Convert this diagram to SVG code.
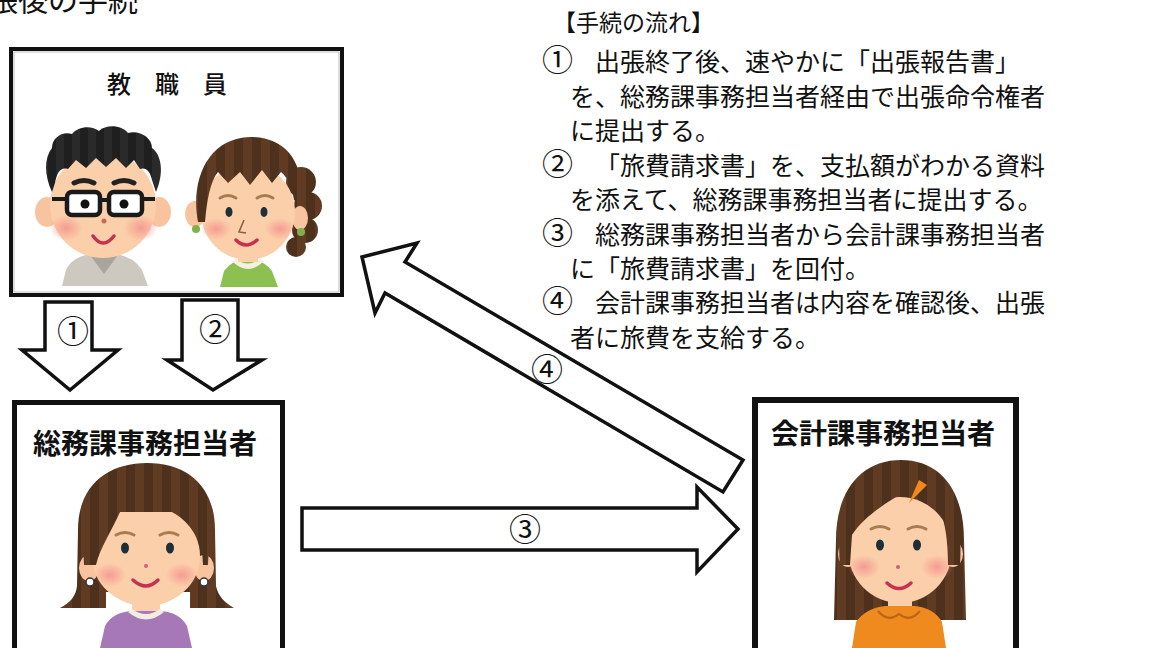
<svg xmlns="http://www.w3.org/2000/svg" width="1152" height="648" viewBox="0 0 1152 648">
  <defs>
    <style>
      .jp { font-family: "Noto Sans CJK JP", "Noto Sans", sans-serif; fill: #111; text-spacing-trim: space-all; }
      .body { font-size: 25px; }
      .head { font-size: 23px; }
      .cd { font-size: 31px; }
      .ttl { font-size: 28px; font-weight: 700; }
      .num { font-size: 32px; }
      .box { fill: #fff; stroke: #111; }
      .arrow { fill: #fff; stroke: #111; stroke-width: 3.5; stroke-linejoin: miter; }
      .skin { fill: #fbcfa9; }
      .ear { fill: #f8c4a0; }
      .eye { fill: #1e2f3a; }
      .brow { fill: none; stroke: #a57d52; stroke-width: 3; stroke-linecap: round; }
      .mouth { fill: none; stroke: #c8304f; stroke-width: 3.5; stroke-linecap: round; }
      .hair { fill: url(#stripeBrown); }
    </style>
    <pattern id="stripeBrown" patternUnits="userSpaceOnUse" width="18" height="10">
      <rect width="18" height="10" fill="#5e3b22"/>
      <rect width="9" height="10" fill="#4e311c"/>
    </pattern>
    <pattern id="stripeBlack" patternUnits="userSpaceOnUse" width="16" height="10">
      <rect width="16" height="10" fill="#2a2a2a"/>
      <rect width="8" height="10" fill="#1f1f1f"/>
    </pattern>
    <radialGradient id="blush">
      <stop offset="0" stop-color="#f4938f" stop-opacity="0.85"/>
      <stop offset="1" stop-color="#f4938f" stop-opacity="0"/>
    </radialGradient>
  </defs>

  <rect width="1152" height="648" fill="#fff"/>

  <!-- heading, cut by the top edge -->
  <text class="jp" x="-12" y="11" font-size="30">張後の手続</text>

  <!-- procedure notes -->
  <g id="notes" class="jp">
    <text class="head" x="553" y="31">【手続の流れ】</text>
    <text class="body" y="71"><tspan class="cd" x="542">①</tspan><tspan x="570">　出張終了後、速やかに「出張報告書」</tspan></text>
    <text class="body" x="570" y="105.5">を、総務課事務担当者経由で出張命令権者</text>
    <text class="body" x="570" y="140">に提出する。</text>
    <text class="body" y="174.5"><tspan class="cd" x="542">②</tspan><tspan x="570">　</tspan><tspan x="595">「旅費請求書」を、支払額がわかる資料</tspan></text>
    <text class="body" x="570" y="209">を添えて、総務課事務担当者に提出する。</text>
    <text class="body" y="243.5"><tspan class="cd" x="542">③</tspan><tspan x="570">　総務課事務担当者から会計課事務担当者</tspan></text>
    <text class="body" x="570" y="278">に「旅費請求書」を回付。</text>
    <text class="body" y="312"><tspan class="cd" x="542">④</tspan><tspan x="570">　会計課事務担当者は内容を確認後、出張</tspan></text>
    <text class="body" x="570" y="346.5">者に旅費を支給する。</text>
  </g>

  <!-- staff box -->
  <g id="staff">
    <rect class="box" x="11" y="49" width="331" height="246" stroke-width="4"/>
    <rect x="14" y="52" width="325" height="240" fill="none" stroke="#bbb" stroke-width="1"/>
    <text class="jp" x="107" y="93" font-size="24" font-weight="500">教　職　員</text>

    <!-- man with glasses -->
    <g id="staff-man">
      <path d="M62,286 L66,270 Q72,257 90,254 L116,254 Q134,257 142,270 L148,286 Z" fill="#cdc8c0"/>
      <path d="M90,255 L104,274 L118,255 Z" fill="#a9a49c"/>
      <rect class="skin" x="92" y="244" width="22" height="13"/>
      <ellipse class="ear" cx="47" cy="212" rx="12" ry="15"/>
      <ellipse class="ear" cx="159" cy="212" rx="12" ry="15"/>
      <ellipse class="skin" cx="103" cy="205" rx="53" ry="53"/>
      <ellipse cx="66" cy="228" rx="17" ry="13" fill="url(#blush)"/>
      <ellipse cx="141" cy="228" rx="17" ry="13" fill="url(#blush)"/>
      <path d="M52,192 C44,175 44,158 52,148 C52,138 62,131 72,134 C78,126 92,125 99,131 C106,124 122,125 128,133 C140,130 152,138 152,148 C162,155 164,174 156,192 L152,180 C150,171 146,167 140,169 L134,160 L126,168 L116,158 L106,167 L96,158 L86,168 L76,160 L68,169 C60,167 57,173 55,183 Z" fill="url(#stripeBlack)"/>
      <path d="M74,183 Q84,178 94,183" fill="none" stroke="#222" stroke-width="5" stroke-linecap="round"/>
      <path d="M114,183 Q124,178 134,183" fill="none" stroke="#222" stroke-width="5" stroke-linecap="round"/>
      <line x1="52" y1="199" x2="67" y2="199" stroke="#1a1a1a" stroke-width="4"/>
      <line x1="142" y1="199" x2="155" y2="199" stroke="#1a1a1a" stroke-width="4"/>
      <rect x="67" y="192" width="33" height="23" rx="5" fill="#fff" stroke="#1a1a1a" stroke-width="4.5"/>
      <rect x="109" y="192" width="33" height="23" rx="5" fill="#fff" stroke="#1a1a1a" stroke-width="4.5"/>
      <line x1="100" y1="200" x2="109" y2="200" stroke="#1a1a1a" stroke-width="4"/>
      <circle cx="85" cy="204" r="4.5" fill="#111"/>
      <circle cx="124" cy="204" r="4.5" fill="#111"/>
      <circle cx="104" cy="221" r="2.5" fill="#c96a55"/>
      <path class="mouth" d="M93,236 Q103,250 114,236"/>
    </g>

    <!-- woman with hair bun -->
    <g id="staff-woman">
      <circle class="hair" cx="301" cy="182" r="15"/>
      <circle class="hair" cx="308" cy="206" r="14"/>
      <circle class="hair" cx="305" cy="230" r="13"/>
      <circle class="hair" cx="296" cy="247" r="10"/>
      <path d="M220,287 L224,271 Q232,260 248,259 Q264,260 272,271 L278,287 Z" fill="#8cc152"/>
      <path d="M232,261 Q248,277 264,261 L260,259 Q248,268 236,259 Z" fill="#f5f0e0"/>
      <rect class="skin" x="238" y="247" width="20" height="15"/>
      <ellipse class="ear" cx="195" cy="214" rx="10" ry="13"/>
      <ellipse class="ear" cx="300" cy="218" rx="8" ry="12"/>
      <ellipse class="skin" cx="248" cy="212" rx="47" ry="48"/>
      <ellipse cx="216" cy="229" rx="15" ry="11" fill="url(#blush)"/>
      <ellipse cx="280" cy="229" rx="15" ry="11" fill="url(#blush)"/>
      <path d="M198,222 C190,180 208,138 250,137 C288,137 306,165 300,205 L294,200 C292,186 287,177 281,172 L272,183 L262,170 L250,185 L240,172 L228,183 L218,172 C210,182 207,200 205,222 Z" class="hair"/>
      <circle cx="196" cy="229" r="4" fill="#7fb04a"/>
      <circle cx="301" cy="232" r="4" fill="#7fb04a"/>
      <path class="brow" d="M220,198 Q228,193 236,198"/>
      <path class="brow" d="M257,198 Q265,193 273,198"/>
      <ellipse class="eye" cx="229" cy="212" rx="3.5" ry="5"/>
      <ellipse class="eye" cx="264" cy="212" rx="3.5" ry="5"/>
      <path d="M244,220 L239,232 L246,233" fill="none" stroke="#8a5a40" stroke-width="1.5"/>
      <path class="mouth" d="M236,240 Q246,250 257,240"/>
    </g>
  </g>

  <!-- general affairs clerk box -->
  <g id="general-affairs">
    <rect class="box" x="14.5" y="402.5" width="268" height="260" stroke-width="5"/>
    <text class="jp ttl" x="145" y="454" text-anchor="middle">総務課事務担当者</text>
    <path class="hair" d="M78,530 C78,485 108,463 147,463 C188,463 215,487 215,530 L216,586 C218,596 225,603 234,608 L190,608 L190,592 L106,592 L106,608 L60,608 C70,603 76,596 77,586 Z"/>
    <rect class="skin" x="132" y="596" width="28" height="20"/>
    <path d="M100,648 L105,626 Q112,613 130,611 L162,611 Q180,613 187,626 L192,648 Z" fill="#a678b8"/>
    <path d="M128,612 Q146,627 164,612 L160,609 Q146,619 132,609 Z" fill="#f3ede0"/>
    <ellipse class="ear" cx="89" cy="568" rx="10" ry="13"/>
    <ellipse class="ear" cx="204" cy="568" rx="10" ry="13"/>
    <ellipse class="skin" cx="146" cy="556" rx="54" ry="50"/>
    <ellipse cx="110" cy="575" rx="16" ry="12" fill="url(#blush)"/>
    <ellipse cx="182" cy="575" rx="16" ry="12" fill="url(#blush)"/>
    <path class="hair" d="M84,565 C80,505 108,470 147,470 C188,470 212,505 208,565 L203,565 C202,540 198,522 190,512 L120,512 C112,530 100,548 96,565 Z"/>
    <circle cx="90" cy="582" r="4" fill="#fff" stroke="#333" stroke-width="1.5"/>
    <circle cx="204" cy="582" r="4" fill="#fff" stroke="#333" stroke-width="1.5"/>
    <path class="brow" d="M116,535 Q125,530 134,535"/>
    <path class="brow" d="M160,535 Q169,530 178,535"/>
    <ellipse class="eye" cx="125" cy="548" rx="4" ry="5.5"/>
    <ellipse class="eye" cx="170" cy="548" rx="4" ry="5.5"/>
    <circle cx="146" cy="566" r="2" fill="#d0607a"/>
    <path class="mouth" d="M133,580 Q146,592 158,580"/>
  </g>

  <!-- accounting clerk box -->
  <g id="accounting">
    <rect class="box" x="755" y="400" width="261" height="260" stroke-width="6"/>
    <text class="jp ttl" x="883" y="444" text-anchor="middle">会計課事務担当者</text>
    <path class="hair" d="M836,540 C836,490 862,460 901,460 C940,460 964,490 964,540 L966,620 L834,620 Z"/>
    <rect class="skin" x="888" y="596" width="24" height="14"/>
    <path d="M852,648 L856,622 Q866,608 885,606 L915,606 Q934,608 942,622 L946,648 Z" fill="#ef8a1f"/>
    <path d="M878,611 Q888,623 899,614 Q910,623 920,611" fill="none" stroke="#b8651a" stroke-width="2"/>
    <ellipse class="ear" cx="848" cy="554" rx="10" ry="13"/>
    <ellipse class="ear" cx="953" cy="554" rx="10" ry="13"/>
    <ellipse class="skin" cx="900" cy="550" rx="52" ry="53"/>
    <ellipse cx="864" cy="567" rx="16" ry="12" fill="url(#blush)"/>
    <ellipse cx="937" cy="567" rx="16" ry="12" fill="url(#blush)"/>
    <path class="hair" d="M840,565 C834,500 862,462 902,462 C942,462 964,495 960,565 L948,565 C948,530 942,505 928,490 L913,487 C890,500 865,515 852,535 L850,565 Z"/>
    <path d="M909,503 L919,480 L927,485 Z" fill="#f08a1c"/>
    <path class="brow" d="M871,529 Q880,524 889,529"/>
    <path class="brow" d="M908,529 Q917,524 926,529"/>
    <ellipse class="eye" cx="880" cy="545" rx="4" ry="5.5"/>
    <ellipse class="eye" cx="917" cy="545" rx="4" ry="5.5"/>
    <circle cx="898" cy="567" r="2" fill="#d0607a"/>
    <path class="mouth" d="M887,583 Q899,594 911,583"/>
  </g>

  <!-- flow arrows -->
  <g id="connectors">
    <polygon class="arrow" points="45,302 92,302 92,350 118,350 70,390 22,350 45,350"/>
    <text class="jp num" x="73" y="343" text-anchor="middle">①</text>
    <polygon class="arrow" points="182,300 238,300 238,360 262,360 213,390 167,360 182,360"/>
    <text class="jp num" x="215" y="341" text-anchor="middle">②</text>
    <polygon class="arrow" points="302,508 697,508 697,487 738,529 697,572 697,550 302,550"/>
    <text class="jp num" x="525" y="541" text-anchor="middle">③</text>
    <polygon class="arrow" points="362,257 417,243 405,262 743,460 723,492 385,293 375,313"/>
    <text class="jp num" x="547" y="381" text-anchor="middle">④</text>
  </g>
</svg>
